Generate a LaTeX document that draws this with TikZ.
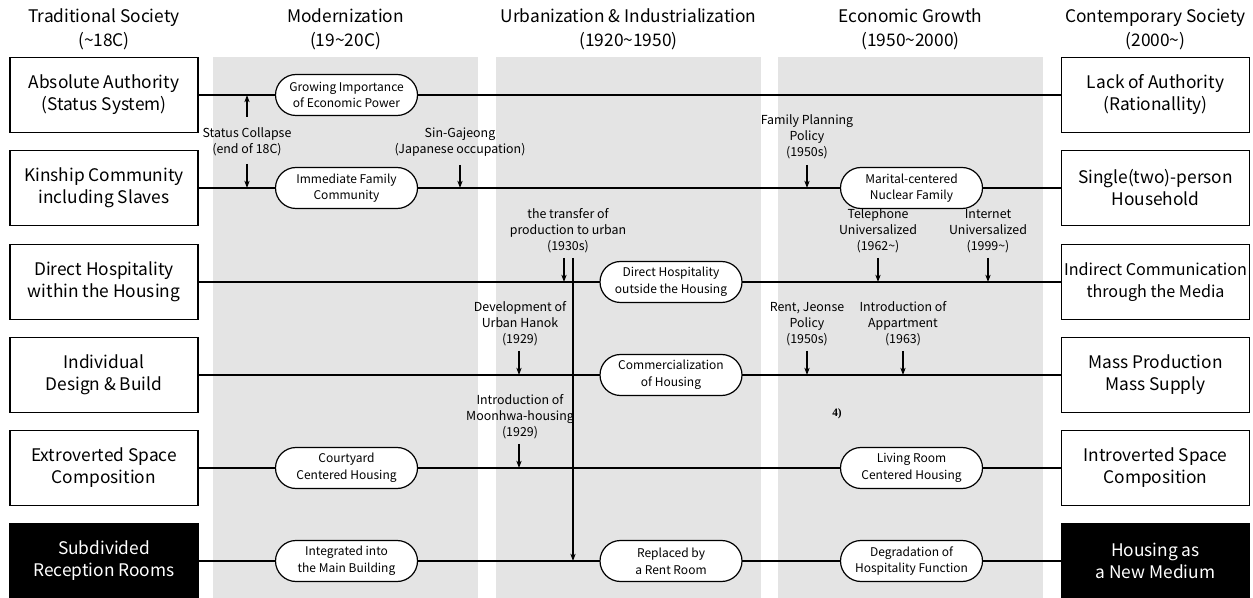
\documentclass[tikz,border=0pt]{standalone}
\usepackage{fontspec}
\setmainfont{Noto Sans CJK KR}
\newfontfamily\refnumfont{Liberation Serif}
\usetikzlibrary{shapes.misc,arrows.meta}
\definecolor{band}{RGB}{228,228,228}

\begin{document}
\begin{tikzpicture}[x=0.75pt,y=-0.75pt,
  period/.style={font=\fontsize{13}{18}\selectfont, align=center, inner sep=0},
  state/.style={draw, line width=1pt, fill=white, minimum width=141pt,
    minimum height=56.25pt, align=center, inner sep=0,
    font=\fontsize{13}{16.5}\selectfont},
  endstate/.style={state, fill=black, text=white},
  phase/.style={rounded rectangle, draw, line width=0.9pt, fill=white,
    minimum width=106.5pt, minimum height=30.75pt, inner sep=0, align=center,
    font=\fontsize{9}{12.5}\selectfont},
  note/.style={align=center, inner sep=0, font=\fontsize{9.3}{12}\selectfont},
  link/.style={line width=0.8pt},
  push/.style={line width=0.8pt, -{Stealth[length=5.5pt,width=4pt]}},
]
\useasboundingbox (0,0) rectangle (1253,598);

% period bands
\fill[band] (213,57) rectangle (478,598);
\fill[band] (496,57) rectangle (761,598);
\fill[band] (778,57) rectangle (1043,598);

% period headings
\node[period] (h1) at (104,29) {Traditional Society\\(\textasciitilde18C)};
\node[period] (h2) at (345.5,29) {Modernization\\(19\textasciitilde20C)};
\node[period] (h3) at (628.5,29) {Urbanization \& Industrialization\\(1920\textasciitilde1950)};
\node[period] (h4) at (910.5,29) {Economic Growth\\(1950\textasciitilde2000)};
\node[period] (h5) at (1155.5,29) {Contemporary Society\\(2000\textasciitilde)};

% traditional states
\node[state] (l1) at (104,95) {Absolute Authority\\(Status System)};
\node[state] (l2) at (104,188) {Kinship Community\\including Slaves};
\node[state] (l3) at (104,282) {Direct Hospitality\\within the Housing};
\node[state] (l4) at (104,375) {Individual\\Design \& Build};
\node[state] (l5) at (104,468) {Extroverted Space\\Composition};
\node[endstate] (l6) at (104,561) {Subdivided\\Reception Rooms};

% contemporary states
\node[state] (r1) at (1155.5,95) {Lack of Authority\\(Rationallity)};
\node[state] (r2) at (1155.5,188) {Single(two)-person\\Household};
\node[state, font=\fontsize{12.1}{16.5}\selectfont] (r3) at (1155.5,282) {Indirect Communication\\through the Media};
\node[state] (r4) at (1155.5,375) {Mass Production\\Mass Supply};
\node[state] (r5) at (1155.5,468) {Introverted Space\\Composition};
\node[endstate] (r6) at (1155.5,561) {Housing as\\a New Medium};

% timelines
\foreach \i in {1,...,6} \draw[link] (l\i.east) -- (r\i.west);

% intermediate stages
\node[phase] (p1a) at (346.5,95) {Growing Importance\\of Economic Power};
\node[phase] (p2a) at (346.5,188) {Immediate Family\\Community};
\node[phase] (p2c) at (911.5,188) {Marital-centered\\Nuclear Family};
\node[phase] (p3b) at (671,282) {Direct Hospitality\\outside the Housing};
\node[phase] (p4b) at (671,375) {Commercialization\\of Housing};
\node[phase] (p5a) at (346.5,468) {Courtyard\\Centered Housing};
\node[phase] (p5c) at (911.5,468) {Living Room\\Centered Housing};
\node[phase] (p6a) at (346.5,561) {Integrated into\\the Main Building};
\node[phase] (p6b) at (671,561) {Replaced by\\a Rent Room};
\node[phase] (p6c) at (911.5,561) {Degradation of\\Hospitality Function};

% events
\node[note] (e1) at (247,142) {Status Collapse\\(end of 18C)};
\node[note] (e2) at (460,142) {Sin-Gajeong\\(Japanese occupation)};
\node[note] (e3) at (807,137) {Family Planning\\Policy\\(1950s)};
\node[note] (e4) at (568,231) {the transfer of\\production to urban\\(1930s)};
\node[note] (e5) at (878,231) {Telephone\\Universalized\\(1962\textasciitilde)};
\node[note] (e6) at (988,231) {Internet\\Universalized\\(1999\textasciitilde)};
\node[note] (e7) at (520,324) {Development of\\Urban Hanok\\(1929)};
\node[note] (e8) at (807,324) {Rent, Jeonse\\Policy\\(1950s)};
\node[note] (e9) at (903,324) {Introduction of\\Appartment\\(1963)};
\node[note] (e10) at (520,417) {Introduction of\\Moonhwa-housing\\(1929)};
\node[inner sep=0, font=\refnumfont\bfseries\fontsize{8.5}{9}\selectfont] (fn) at (837,414) {4)};

% event arrow ends
\coordinate (a1s) at (247,117); \coordinate (a1t) at (247,95);
\coordinate (a2s) at (247,164); \coordinate (a2t) at (247,188);
\coordinate (a3s) at (460,165); \coordinate (a3t) at (460,188);
\coordinate (a4s) at (807,165); \coordinate (a4t) at (807,188);
\coordinate (a5s) at (564,258); \coordinate (a5t) at (564,282);
\coordinate (a6s) at (573,258); \coordinate (a6t) at (573,561);
\coordinate (a7s) at (878,258); \coordinate (a7t) at (878,282);
\coordinate (a8s) at (988,258); \coordinate (a8t) at (988,282);
\coordinate (a9s) at (519,351); \coordinate (a9t) at (519,375);
\coordinate (a10s) at (807,351); \coordinate (a10t) at (807,375);
\coordinate (a11s) at (903,351); \coordinate (a11t) at (903,375);
\coordinate (a12s) at (519,444); \coordinate (a12t) at (519,468);

\foreach \k in {1,...,12} \draw[push] (a\k s) -- (a\k t);
\end{tikzpicture}
\end{document}
